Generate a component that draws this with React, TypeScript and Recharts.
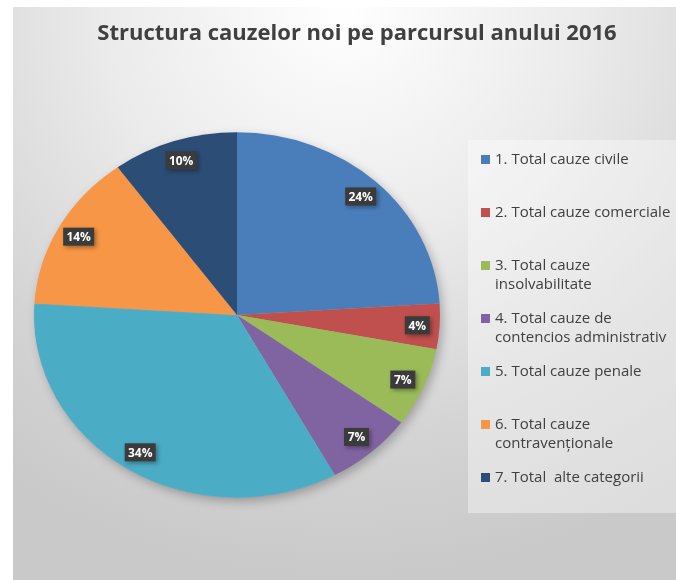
import React from "react";
import { PieChart, Pie, Cell, Legend } from "recharts";

// categories, shares (%) and slice colours
const categories = [
  "1. Total cauze civile",
  "2. Total cauze comerciale",
  "3. Total cauze\ninsolvabilitate",
  "4. Total cauze de\ncontencios administrativ",
  "5. Total cauze penale",
  "6. Total cauze\ncontravenționale",
  "7. Total  alte categorii",
];
const shares = [24, 4, 7, 7, 34, 14, 10];
const colors = ["#4A7EBB", "#C0504D", "#9BBB59", "#8064A2", "#4BACC6", "#F79646", "#2C4D75"];

const data = categories.map((name, i) => ({ name, value: shares[i] }));

const CX = 224;
const CY = 308;
const R = 203;
const SQUASH = 0.9; // pie is drawn slightly flattened, like the original

const RADIAN = Math.PI / 180;

const renderLabel = (props: any) => {
  const { cx, cy, midAngle, outerRadius, percent } = props;
  const r = outerRadius * 0.89;
  const x = cx + r * Math.cos(-midAngle * RADIAN);
  const y = cy + r * Math.sin(-midAngle * RADIAN) * SQUASH;
  const text = `${Math.round(percent * 100)}%`;
  const w = text.length > 2 ? 31 : 25;
  return (
    <g>
      <rect
        x={x - w / 2}
        y={y - 9}
        width={w}
        height={18}
        fill="#3b3b3b"
        style={{ filter: "drop-shadow(2px 2px 2px rgba(0,0,0,0.35))" }}
      />
      <text
        x={x}
        y={y}
        fill="#ffffff"
        fontSize={12}
        fontWeight="bold"
        fontFamily="'Open Sans', sans-serif"
        textAnchor="middle"
        dominantBaseline="central"
      >
        {text}
      </text>
    </g>
  );
};

const renderLegend = (props: any) => {
  const { payload } = props;
  return (
    <div style={{ position: "relative", width: "100%", height: "100%" }}>
      {(payload || []).map((entry: any, i: number) => (
        <div
          key={i}
          style={{
            position: "absolute",
            left: 13,
            top: 9 + i * 53,
            display: "flex",
            alignItems: "flex-start",
          }}
        >
          <span
            style={{
              display: "inline-block",
              width: 9,
              height: 9,
              marginTop: 6,
              marginRight: 5,
              background: entry.color,
            }}
          />
          <span
            style={{
              whiteSpace: "pre",
              fontFamily: "'Open Sans', sans-serif",
              fontSize: 15,
              lineHeight: "19px",
              color: "#404040",
            }}
          >
            {entry.value}
          </span>
        </div>
      ))}
    </div>
  );
};

export default function App() {
  return (
    <div
      style={{
        position: "fixed",
        left: 13,
        top: 7,
        width: 663,
        height: 573,
        overflow: "hidden",
        background:
          "radial-gradient(ellipse 90% 100% at 50% 0%, #ffffff 0%, #ebebeb 40%, #d4d4d4 75%, #c9c9c9 100%)",
      }}
    >
      <style>{`
        .pie-wrap path.recharts-sector {
          transform-box: view-box;
          transform-origin: ${CX}px ${CY}px;
          transform: scaleY(${SQUASH});
        }
        .pie-wrap .recharts-pie {
          filter: drop-shadow(3px 4px 5px rgba(0,0,0,0.25));
        }
      `}</style>
      <div
        style={{
          position: "absolute",
          left: 0,
          top: 9,
          width: 688,
          textAlign: "center",
          fontFamily: "'Open Sans', sans-serif",
          fontWeight: "bold",
          fontSize: 22,
          lineHeight: "30px",
          color: "#404040",
        }}
      >
        Structura cauzelor noi pe parcursul anului 2016
      </div>
      <div className="pie-wrap" style={{ position: "absolute", left: 0, top: 0 }}>
        <PieChart width={663} height={573} margin={{ top: 0, right: 0, bottom: 0, left: 0 }}>
          <Pie
            data={data}
            dataKey="value"
            nameKey="name"
            cx={CX}
            cy={CY}
            outerRadius={R}
            startAngle={90}
            endAngle={-270}
            stroke="none"
            label={renderLabel}
            labelLine={false}
            isAnimationActive={false}
          >
            {data.map((_, i) => (
              <Cell key={i} fill={colors[i]} />
            ))}
          </Pie>
          <Legend
            layout="vertical"
            content={renderLegend}
            wrapperStyle={{
              left: 455,
              top: 133,
              width: 230,
              height: 373,
              background: "rgba(255,255,255,0.38)",
            }}
          />
        </PieChart>
      </div>
    </div>
  );
}
